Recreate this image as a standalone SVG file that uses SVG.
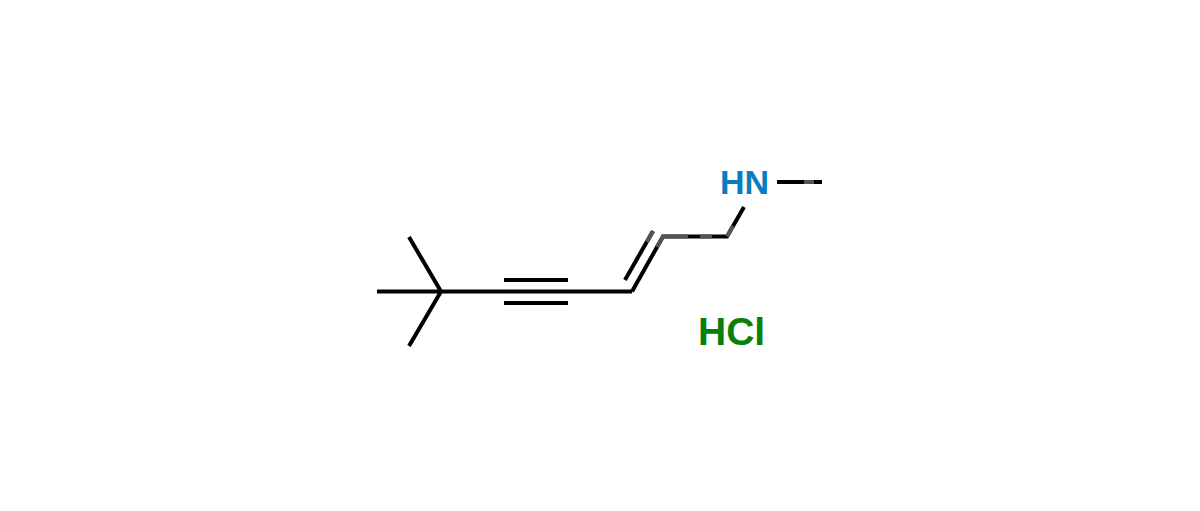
<svg xmlns="http://www.w3.org/2000/svg" width="1200" height="511" viewBox="0 0 1200 511">
<style>
.b{stroke:#000;stroke-width:4;stroke-linecap:butt;fill:none}
.g{stroke:#555;stroke-width:4;fill:none}
text{font-family:"Liberation Sans",Arial,sans-serif;font-weight:700}
</style>
<rect width="1200" height="511" fill="#fff"/>
<g id="connectors">
<path class="b" d="M409 237L441 291.5M377 291.5H632M409 346L441 291.5"/>
<path class="b" d="M504 280H568M504 303H568"/>
<path class="b" d="M632 291.5L663 236.5H727L744 207"/>
<path class="b" d="M625 280L653 231"/>
<path class="b" d="M777 182H822"/>
<path class="g" d="M647 242L653 231M657 247L663 236.5H688M700 236.5H712M727 236.5L733 226M804 182H814"/>
</g>
<g id="nh"><text x="720" y="194" font-size="34" fill="#0a7cc0">HN</text></g>
<g id="hcl"><text x="698" y="345" font-size="39" fill="#0a800a">HCl</text></g>
</svg>
